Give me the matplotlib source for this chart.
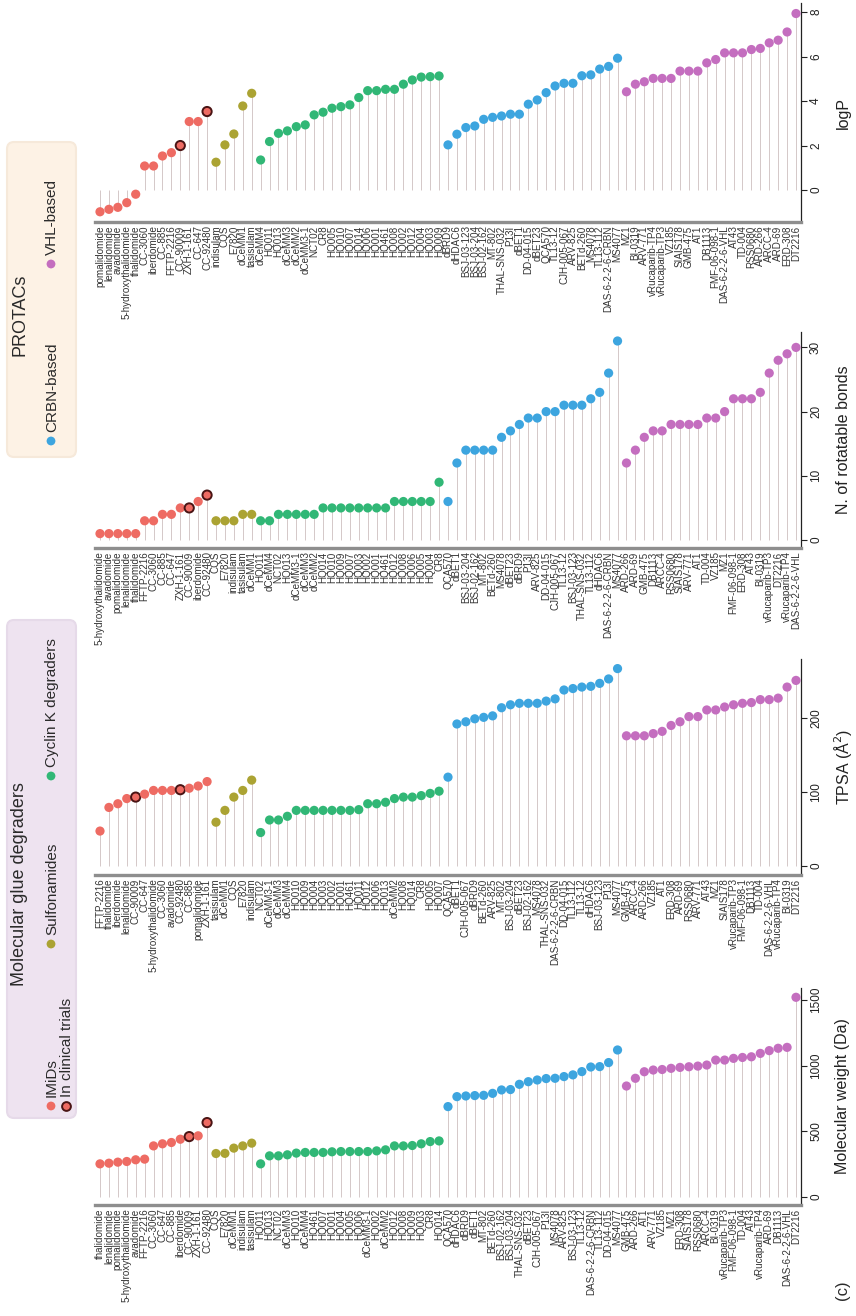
import matplotlib
matplotlib.use('Agg')
import matplotlib.pyplot as plt
from matplotlib.patches import FancyBboxPatch
from matplotlib import font_manager
import numpy as np

plt.rcParams['font.family'] = ['Liberation Sans', 'DejaVu Sans']


def _has(fam):
    try:
        font_manager.findfont(font_manager.FontProperties(family=fam), fallback_to_default=False)
        return True
    except Exception:
        return False


if _has('Liberation Sans Narrow'):
    LABEL_FONT, LABEL_SIZE = ['Liberation Sans Narrow', 'DejaVu Sans'], 8.2
else:
    LABEL_FONT, LABEL_SIZE = ['Liberation Sans', 'DejaVu Sans'], 7.1

# ---------------- data ----------------
group_names = ['IMiDs', 'Sulfonamides', 'Cyclin K degraders', 'CRBN-based', 'VHL-based']
group_sizes = [13, 5, 21, 20, 20]
group_colors = ['#EE6B63', '#ABA333', '#31B776', '#3DA5DF', '#C46EBF']
clinical = ['CC-90009', 'CC-92480']

logp_labels = [
    'pomalidomide', 'lenalidomide', 'avadomide', '5-hydroxythalidomide', 'thalidomide', 'CC-3060',
    'iberdomide', 'CC-885', 'FFTP-2216', 'CC-90009', 'ZXH-1-161', 'CC-647', 'CC-92480',
    'indisulam', 'CQS', 'E7820', 'dCeMM1', 'tasisulam',
    'dCeMM4', 'HQ011', 'HQ013', 'dCeMM3', 'dCeMM2', 'dCeMM3-1', 'NCT02', 'CR8', 'HQ005', 'HQ010',
    'HQ007', 'HQ014', 'HQ006', 'HQ001', 'HQ461', 'HQ008', 'HQ002', 'HQ012', 'HQ004', 'HQ003', 'HQ009',
    'dBRD9', 'dHDAC6', 'BSJ-03-123', 'BSJ-03-204', 'BSJ-02-162', 'MT-802', 'THAL-SNS-032', 'P13I',
    'dBET1', 'DD-04-015', 'dBET23', 'QCA570', 'TL13-12', 'CJH-005-067', 'ARV-825', 'BETd-260',
    'MS4078', 'TL13-112', 'DAS-6-2-2-6-CRBN', 'MS4077',
    'MZ1', 'BI-0319', 'ARV-771', 'vRucaparib-TP4', 'vRucaparib-TP3', 'VZ185', 'SIAIS178', 'GMB-475',
    'AT1', 'DB1113', 'FMF-06-098-1', 'DAS-6-2-2-6-VHL', 'AT43', 'TD-004', 'RSS0680', 'ARD-266',
    'ARCC-4', 'ARD-69', 'ERD-308', 'DT2216']
logp_values = [
    -0.98, -0.87, -0.78, -0.57, -0.19, 1.08, 1.08, 1.53, 1.68, 2.0, 3.08, 3.08, 3.53,
    1.25, 2.03, 2.52, 3.78, 4.35,
    1.35, 2.18, 2.55, 2.66, 2.85, 2.93, 3.38, 3.5, 3.68, 3.75, 3.83, 4.16, 4.47, 4.47, 4.53, 4.53,
    4.76, 4.95, 5.08, 5.1, 5.13,
    2.03, 2.51, 2.81, 2.88, 3.18, 3.27, 3.33, 3.41, 3.41, 3.86, 4.05, 4.38, 4.68, 4.8, 4.8, 5.14,
    5.18, 5.44, 5.56, 5.93,
    4.42, 4.76, 4.87, 5.02, 5.02, 5.02, 5.35, 5.35, 5.35, 5.72, 5.87, 6.17, 6.17, 6.17, 6.32, 6.37,
    6.62, 6.74, 7.11, 7.94]

rotb_labels = [
    '5-hydroxythalidomide', 'avadomide', 'pomalidomide', 'lenalidomide', 'thalidomide', 'FFTP-2216',
    'CC-3060', 'CC-885', 'CC-647', 'ZXH-1-161', 'CC-90009', 'iberdomide', 'CC-92480',
    'CQS', 'E7820', 'indisulam', 'tasisulam', 'dCeMM1',
    'HQ011', 'dCeMM4', 'NCT02', 'HQ013', 'dCeMM3-1', 'dCeMM3', 'dCeMM2', 'HQ014', 'HQ010', 'HQ009',
    'HQ007', 'HQ003', 'HQ002', 'HQ001', 'HQ461', 'HQ012', 'HQ008', 'HQ006', 'HQ005', 'HQ004', 'CR8',
    'QCA570', 'dBET1', 'BSJ-03-204', 'BSJ-02-162', 'MT-802', 'BETd-260', 'MS4078', 'dBET23', 'dBRD9',
    'P13I', 'ARV-825', 'DD-04-015', 'CJH-005-067', 'TL13-12', 'BSJ-03-123', 'THAL-SNS-032',
    'TL13-112', 'dHDAC6', 'DAS-6-2-2-6-CRBN', 'MS4077',
    'ARD-266', 'ARD-69', 'GMB-475', 'DB1113', 'ARCC-4', 'RSS0680', 'SIAIS178', 'ARV-771', 'AT1',
    'TD-004', 'VZ185', 'MZ1', 'FMF-06-098-1', 'ERD-308', 'AT43', 'BI-0319', 'vRucaparib-TP3',
    'DT2216', 'vRucaparib-TP4', 'DAS-6-2-2-6-VHL']
rotb_values = [
    1, 1, 1, 1, 1, 3, 3, 4, 4, 5, 5, 6, 7,
    3, 3, 3, 4, 4,
    3, 3, 4, 4, 4, 4, 4, 5, 5, 5, 5, 5, 5, 5, 5, 6, 6, 6, 6, 6, 9,
    6, 12, 14, 14, 14, 14, 16, 17, 18, 19, 19, 20, 20, 21, 21, 21, 22, 23, 26, 31,
    12, 14, 16, 17, 17, 18, 18, 18, 18, 19, 19, 20, 22, 22, 22, 23, 26, 28, 29, 30]

tpsa_labels = [
    'FFTP-2216', 'thalidomide', 'iberdomide', 'lenalidomide', 'CC-90009', 'CC-647',
    '5-hydroxythalidomide', 'CC-3060', 'avadomide', 'CC-92480', 'CC-885', 'pomalidomide', 'ZXH-1-161',
    'tasisulam', 'dCeMM1', 'CQS', 'E7820', 'indisulam',
    'NCT02', 'dCeMM3-1', 'dCeMM3', 'dCeMM4', 'HQ010', 'HQ009', 'HQ004', 'HQ003', 'HQ002', 'HQ001',
    'HQ461', 'HQ011', 'HQ012', 'HQ006', 'HQ013', 'dCeMM2', 'HQ008', 'HQ014', 'CR8', 'HQ005', 'HQ007',
    'QCA570', 'dBET1', 'CJH-005-067', 'dBRD9', 'BETd-260', 'ARV-825', 'MT-802', 'BSJ-03-204',
    'dBET23', 'BSJ-02-162', 'MS4078', 'THAL-SNS-032', 'DAS-6-2-2-6-CRBN', 'DD-04-015', 'TL13-112',
    'TL13-12', 'dHDAC6', 'BSJ-03-123', 'P13I', 'MS4077',
    'GMB-475', 'ARCC-4', 'ARD-266', 'VZ185', 'AT1', 'ERD-308', 'ARD-69', 'RSS0680', 'ARV-771', 'AT43',
    'MZ1', 'SIAIS178', 'vRucaparib-TP3', 'FMF-06-098-1', 'DB1113', 'TD-004', 'DAS-6-2-2-6-VHL',
    'vRucaparib-TP4', 'BI-0319', 'DT2216']
tpsa_values = [
    47, 79, 84, 91, 93, 97, 102, 102, 102, 103, 105, 108, 114,
    59, 75, 93, 102, 116,
    45, 62, 62, 67, 75, 75, 75, 75, 75, 75, 75, 76, 84, 84, 86, 91, 93, 93, 95, 98, 101,
    120, 192, 195, 199, 201, 203, 214, 218, 220, 220, 220, 223, 226, 238, 240, 242, 243, 247, 253, 267,
    176, 176, 176, 179, 182, 190, 195, 202, 202, 211, 211, 215, 218, 220, 221, 225, 225, 227, 242, 251]

mw_labels = [
    'thalidomide', 'lenalidomide', 'pomalidomide', '5-hydroxythalidomide', 'avadomide', 'FFTP-2216',
    'CC-3060', 'CC-647', 'CC-885', 'iberdomide', 'CC-90009', 'ZXH-1-161', 'CC-92480',
    'CQS', 'E7820', 'dCeMM1', 'indisulam', 'tasisulam',
    'HQ011', 'HQ013', 'NCT02', 'dCeMM3', 'HQ010', 'dCeMM4', 'HQ461', 'HQ007', 'HQ001', 'HQ004',
    'HQ005', 'HQ006', 'dCeMM3-1', 'HQ002', 'dCeMM2', 'HQ012', 'HQ008', 'HQ009', 'HQ003', 'CR8', 'HQ014',
    'QCA570', 'dHDAC6', 'dBRD9', 'dBET1', 'MT-802', 'BETd-260', 'BSJ-02-162', 'BSJ-03-204',
    'THAL-SNS-032', 'dBET23', 'CJH-005-067', 'P13I', 'MS4078', 'ARV-825', 'BSJ-03-123', 'TL13-12',
    'DAS-6-2-2-6-CRBN', 'TL13-112', 'DD-04-015', 'MS4077',
    'GMB-475', 'ARD-266', 'AT1', 'ARV-771', 'VZ185', 'MZ1', 'ERD-308', 'SIAIS178', 'RSS0680', 'ARCC-4',
    'BI-0319', 'vRucaparib-TP3', 'FMF-06-098-1', 'TD-004', 'AT43', 'vRucaparib-TP4', 'ARD-69',
    'DB1113', 'DAS-6-2-2-6-VHL', 'DT2216']
mw_values = [
    251, 256, 264, 269, 282, 287, 388, 404, 414, 439, 459, 465, 566,
    330, 331, 371, 388, 409,
    251, 312, 312, 320, 333, 338, 338, 338, 343, 345, 345, 345, 345, 350, 358, 388, 388, 391, 404,
    421, 426,
    688, 764, 769, 772, 774, 789, 815, 818, 858, 878, 891, 902, 904, 917, 930, 955, 990, 993, 1024,
    1120,
    845, 904, 954, 967, 971, 980, 987, 992, 997, 1005, 1043, 1043, 1056, 1063, 1068, 1094, 1115,
    1133, 1140, 1522]

logp_ticks = [0, 2, 4, 6, 8]
rotb_ticks = [0, 10, 20, 30]
tpsa_ticks = [0, 100, 200]
mw_ticks = [0, 500, 1000, 1500]

# ---------------- layout (pixels of the 856x1316 canvas) ----------------
W, H = 856, 1316
fig = plt.figure(figsize=(W / 100, H / 100), dpi=100)
fig.patch.set_facecolor('white')

bg = fig.add_axes([0, 0, 1, 1], zorder=-5)
bg.set_xlim(0, W)
bg.set_ylim(H, 0)
bg.axis('off')

AX_L, AX_R = 95, 801
colors_all = np.repeat(np.array(group_colors, dtype=object), group_sizes)


def add_panel(top, bottom, labels, values, ylabel, ylim, yticks):
    ax = fig.add_axes([AX_L / W, 1 - bottom / H, (AX_R - AX_L) / W, (bottom - top) / H])
    n = len(values)
    x = np.arange(n)
    ax.vlines(x, 0, values, color='#d4c8c8', lw=0.7, zorder=1)
    ec = ['#4a1414' if l in clinical else 'none' for l in labels]
    lw = [1.4 if l in clinical else 0.0 for l in labels]
    ax.scatter(x, values, s=44, c=list(colors_all), edgecolors=ec, linewidths=lw, zorder=3)
    ax.set_xlim(-0.56, n - 1 + 0.56)
    ax.set_ylim(*ylim)
    for s in ['top', 'left']:
        ax.spines[s].set_visible(False)
    ax.spines['right'].set_linewidth(0.9)
    ax.spines['right'].set_color('#222222')
    ax.spines['bottom'].set_linewidth(2.4)
    ax.spines['bottom'].set_color('#8e8e8e')
    ax.yaxis.tick_right()
    ax.set_yticks(yticks)
    ax.tick_params(axis='y', direction='out', length=4, width=0.8, labelsize=8.5,
                   labelrotation=90, pad=2.5, colors='#222222')
    for t in ax.get_yticklabels():
        t.set_va('center')
    ax.set_xticks(x)
    ax.set_xticklabels(labels, rotation=90, fontsize=LABEL_SIZE, color='#333333',
                       family=LABEL_FONT)
    ax.tick_params(axis='x', length=0, pad=2.5)
    ax.set_facecolor('none')
    cy = (top + bottom) / 2
    fig.text(843 / W, 1 - cy / H, ylabel, rotation=90, ha='center', va='center',
             fontsize=11.5, color='#222222')
    return ax


add_panel(3.3, 222, logp_labels, logp_values, 'logP', (-1.44, 8.4), logp_ticks)
add_panel(332, 548, rotb_labels, rotb_values, 'N. of rotatable bonds', (-1.24, 32.4), rotb_ticks)
add_panel(659, 875, tpsa_labels, tpsa_values, 'TPSA (Å$^2$)', (-12.5, 280), tpsa_ticks)
add_panel(988, 1205, mw_labels, mw_values, 'Molecular weight (Da)', (-63, 1593), mw_ticks)

# ---------------- legends ----------------
bg.add_patch(FancyBboxPatch((7, 142), 69, 315, boxstyle='round,pad=0,rounding_size=7',
                            fc='#FDF2E5', ec='#F6E9DA', lw=1.5))
bg.add_patch(FancyBboxPatch((7, 620), 69, 498, boxstyle='round,pad=0,rounding_size=7',
                            fc='#EEE3F0', ec='#E6DAE9', lw=1.5))

tc = '#2a2a2a'
bg.text(20, 315, 'PROTACs', rotation=90, ha='center', va='center', fontsize=13, color=tc)
bg.text(20, 884, 'Molecular glue degraders', rotation=90, ha='center', va='center',
        fontsize=13, color=tc)

leg_items = [
    (51, 441, group_colors[3], 'CRBN-based', False),
    (51, 264, group_colors[4], 'VHL-based', False),
    (51, 1106, group_colors[0], 'IMiDs', False),
    (66, 1106, group_colors[0], 'In clinical trials', True),
    (51, 944, group_colors[1], 'Sulfonamides', False),
    (51, 776, group_colors[2], 'Cyclin K degraders', False),
]
for lx, ly, col, txt, edged in leg_items:
    bg.scatter([lx], [ly], s=40, c=[col], edgecolors='#4a1414' if edged else 'none',
               linewidths=1.4 if edged else 0)
    bg.text(lx + 1, ly - 9, txt, rotation=90, ha='center', va='bottom', fontsize=11, color=tc)

bg.text(843, 1290, '(c)', rotation=90, ha='center', va='center', fontsize=12, color=tc)

fig.savefig('out.png', dpi=100, facecolor='white')
